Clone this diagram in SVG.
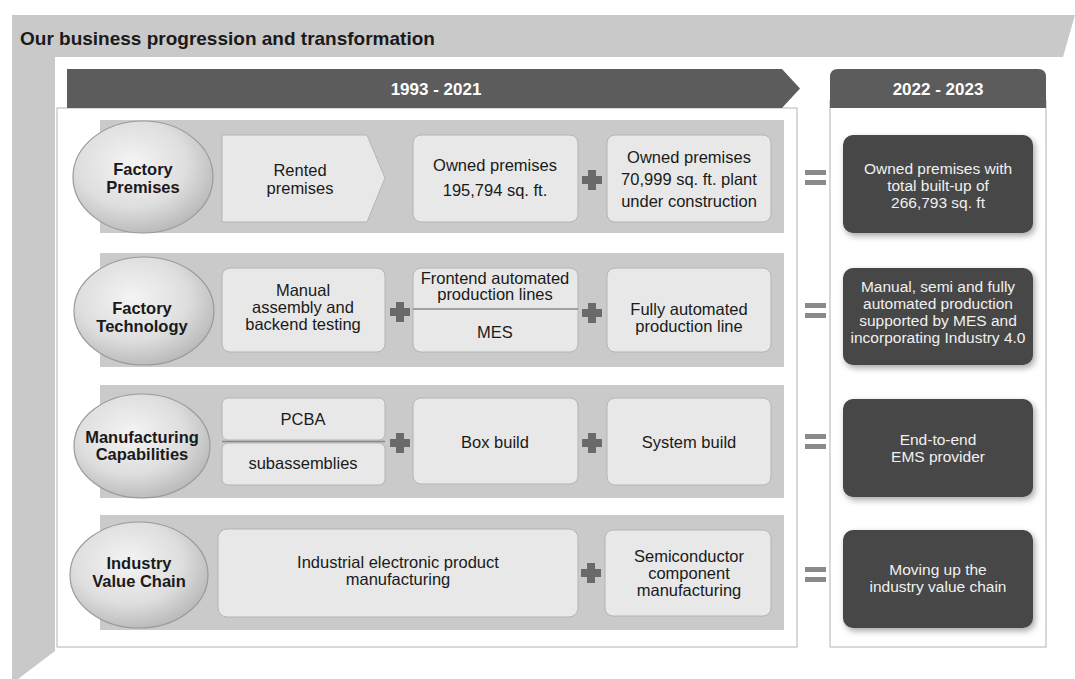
<svg xmlns="http://www.w3.org/2000/svg" width="1075" height="679" viewBox="0 0 1075 679">
<defs>
<style>
text{font-family:"Liberation Sans",Arial,sans-serif;fill:#1a1a1a;text-anchor:middle}
.t{font-size:16.5px}
.b{font-weight:bold;font-size:16.5px}
.w{fill:#f0f0f0;font-size:15.5px}
.h{fill:#ffffff;font-weight:bold;font-size:17px}
.band{fill:#cacaca}
.box{fill:#e8e8e8;stroke:#b4b4b4;stroke-width:1}
.dark{fill:#474747;filter:url(#sh)}
.ell{fill:url(#eg);stroke:#9a9a9a;stroke-width:1.2}
.op{fill:#6a6a6a}
.eq{fill:#8a8a8a}
.div{stroke:#8a8a8a;stroke-width:1.5}
</style>
<radialGradient id="eg" cx="0.42" cy="0.38" r="0.65">
<stop offset="0" stop-color="#f4f4f4"/>
<stop offset="0.6" stop-color="#dedede"/>
<stop offset="1" stop-color="#b8b8b8"/>
</radialGradient>
<filter id="sh" x="-10%" y="-10%" width="125%" height="130%">
<feDropShadow dx="2" dy="3" stdDeviation="3" flood-color="#000" flood-opacity="0.35"/>
</filter>
</defs>
<rect width="1075" height="679" fill="#ffffff"/>
<g id="frame">
<polygon points="12,15 1075,15 1063,57 55,57 55,651 18,679 12,679" fill="#c9c9c9"/>
<text x="20" y="45" style="text-anchor:start;font-weight:bold;font-size:19px">Our business progression and transformation</text>
<rect x="57" y="108" width="740" height="539" fill="#ffffff" stroke="#a0a0a0" stroke-width="0.8"/>
<rect x="830" y="100" width="216" height="547" fill="#ffffff" stroke="#a0a0a0" stroke-width="0.8"/>
</g>
<g id="header-1993-2021">
<polygon points="67,69 782,69 800,88.5 782,108 67,108" fill="#5c5c5c"/>
<text x="436" y="95" class="h">1993 - 2021</text>
</g>
<g id="header-2022-2023">
<path d="M830,108 V77 Q830,69 838,69 H1038 Q1046,69 1046,77 V108 Z" fill="#5c5c5c"/>
<text x="938" y="95" class="h">2022 - 2023</text>
</g>
<g id="row-bands">
<rect x="100" y="120" width="684" height="113" class="band"/>
<rect x="100" y="253" width="684" height="114" class="band"/>
<rect x="100" y="385" width="684" height="113" class="band"/>
<rect x="100" y="515" width="684" height="115" class="band"/>
</g>
<g id="factory-premises">
<ellipse cx="143" cy="177" rx="70" ry="56" class="ell"/>
<text x="143" y="175" class="b">Factory</text>
<text x="143" y="193" class="b">Premises</text>
</g>
<g id="rented-premises">
<polygon points="222,135 367,135 385,178 367,222 222,222" class="box"/>
<text x="300" y="176" class="t">Rented</text>
<text x="300" y="194" class="t">premises</text>
</g>
<g id="owned-premises-195794">
<rect x="413" y="135" width="165" height="87" rx="8" class="box"/>
<text x="495" y="171" class="t">Owned premises</text>
<text x="495" y="196" class="t">195,794 sq. ft.</text>
</g>
<g id="owned-premises-70999">
<rect x="607" y="135" width="164" height="87" rx="8" class="box"/>
<text x="689" y="163" class="t">Owned premises</text>
<text x="689" y="185" class="t">70,999 sq. ft. plant</text>
<text x="689" y="207" class="t">under construction</text>
</g>
<g id="premises-result">
<rect x="843" y="135" width="190" height="98" rx="10" class="dark"/>
<text x="938" y="174" class="w">Owned premises with</text>
<text x="938" y="191" class="w">total built-up of</text>
<text x="938" y="208" class="w">266,793 sq. ft</text>
</g>
<g id="factory-technology">
<ellipse cx="144" cy="311" rx="70" ry="54" class="ell"/>
<text x="142" y="314" class="b">Factory</text>
<text x="142" y="332" class="b">Technology</text>
</g>
<g id="manual-assembly">
<rect x="222" y="268" width="163" height="84" rx="8" class="box"/>
<text x="303" y="296" class="t">Manual</text>
<text x="303" y="313" class="t">assembly and</text>
<text x="303" y="330" class="t">backend testing</text>
</g>
<g id="frontend-mes">
<rect x="413" y="268" width="165" height="84" rx="8" class="box"/>
<line x1="413" y1="309" x2="578" y2="309" class="div"/>
<text x="495" y="284" class="t">Frontend automated</text>
<text x="495" y="300" class="t">production lines</text>
<text x="495" y="338" class="t">MES</text>
</g>
<g id="fully-automated">
<rect x="607" y="268" width="164" height="84" rx="8" class="box"/>
<text x="689" y="315" class="t">Fully automated</text>
<text x="689" y="332" class="t">production line</text>
</g>
<g id="technology-result">
<rect x="843" y="268" width="190" height="97" rx="10" class="dark"/>
<text x="938" y="292" class="w">Manual, semi and fully</text>
<text x="938" y="309" class="w">automated production</text>
<text x="938" y="326" class="w">supported by MES and</text>
<text x="938" y="343" class="w">incorporating Industry 4.0</text>
</g>
<g id="manufacturing-capabilities">
<ellipse cx="142" cy="446" rx="68" ry="52" class="ell"/>
<text x="142" y="443" class="b">Manufacturing</text>
<text x="142" y="460" class="b">Capabilities</text>
</g>
<g id="pcba-subassemblies">
<rect x="222" y="398" width="163" height="42" rx="6" class="box"/>
<rect x="222" y="443" width="163" height="42" rx="6" class="box"/>
<line x1="222" y1="441.5" x2="385" y2="441.5" class="div"/>
<text x="303" y="425" class="t">PCBA</text>
<text x="303" y="469" class="t">subassemblies</text>
</g>
<g id="box-build">
<rect x="413" y="398" width="165" height="86" rx="8" class="box"/>
<text x="495" y="448" class="t">Box build</text>
</g>
<g id="system-build">
<rect x="607" y="398" width="164" height="87" rx="8" class="box"/>
<text x="689" y="448" class="t">System build</text>
</g>
<g id="capabilities-result">
<rect x="843" y="399" width="190" height="98" rx="10" class="dark"/>
<text x="938" y="445" class="w">End-to-end</text>
<text x="938" y="462" class="w">EMS provider</text>
</g>
<g id="industry-value-chain">
<ellipse cx="139" cy="575" rx="69" ry="53" class="ell"/>
<text x="139" y="569" class="b">Industry</text>
<text x="139" y="587" class="b">Value Chain</text>
</g>
<g id="industrial-electronic">
<rect x="218" y="529" width="360" height="88" rx="9" class="box"/>
<text x="398" y="568" class="t">Industrial electronic product</text>
<text x="398" y="585" class="t">manufacturing</text>
</g>
<g id="semiconductor">
<rect x="605" y="530" width="166" height="86" rx="8" class="box"/>
<text x="689" y="562" class="t">Semiconductor</text>
<text x="689" y="579" class="t">component</text>
<text x="689" y="596" class="t">manufacturing</text>
</g>
<g id="value-chain-result">
<rect x="843" y="530" width="190" height="98" rx="10" class="dark"/>
<text x="938" y="575" class="w">Moving up the</text>
<text x="938" y="592" class="w">industry value chain</text>
</g>
<g id="connectors">
<path class="op" d="M588,170h8v6h6v8h-6v6h-8v-6h-6v-8h6z"/>
<path class="op" d="M396,302h8v6h6v8h-6v6h-8v-6h-6v-8h6z"/>
<path class="op" d="M588,303h8v6h6v8h-6v6h-8v-6h-6v-8h6z"/>
<path class="op" d="M396,433h8v6h6v8h-6v6h-8v-6h-6v-8h6z"/>
<path class="op" d="M588,433h8v6h6v8h-6v6h-8v-6h-6v-8h6z"/>
<path class="op" d="M587,563h8v6h6v8h-6v6h-8v-6h-6v-8h6z"/>
<rect x="805" y="170" width="21" height="5" class="eq"/>
<rect x="805" y="180" width="21" height="5" class="eq"/>
<rect x="805" y="303" width="21" height="5" class="eq"/>
<rect x="805" y="313" width="21" height="5" class="eq"/>
<rect x="805" y="434" width="21" height="5" class="eq"/>
<rect x="805" y="444" width="21" height="5" class="eq"/>
<rect x="805" y="567" width="21" height="5" class="eq"/>
<rect x="805" y="577" width="21" height="5" class="eq"/>
</g>
</svg>
